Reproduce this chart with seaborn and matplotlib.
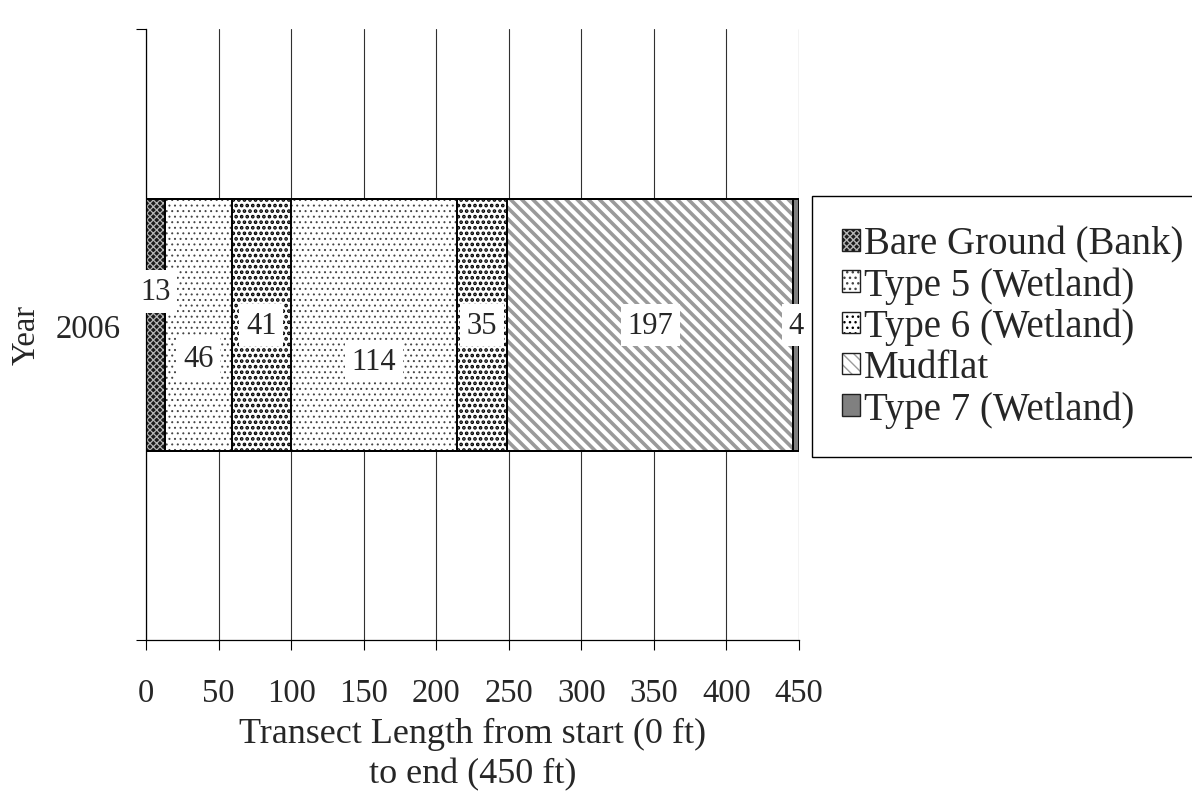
import matplotlib
matplotlib.use("Agg")
import matplotlib.pyplot as plt
from matplotlib.patches import Patch
from matplotlib.legend_handler import HandlerTuple
import numpy as np
import pandas as pd
import seaborn as sns

# Transect segments (ft), in order from start to end
year = "2006"
segments = ["Bare Ground (Bank)", "Type 5 (Wetland)", "Type 6 (Wetland)", "Mudflat", "Type 7 (Wetland)"]
lengths = [13, 46, 41, 114, 35, 197, 4]
segment_types = ["Bare Ground (Bank)", "Type 5 (Wetland)", "Type 6 (Wetland)", "Type 5 (Wetland)",
                 "Type 6 (Wetland)", "Mudflat", "Type 7 (Wetland)"]
x_ticks = list(range(0, 451, 50))

# Fill style per cover type: face colour, hatch colour, hatch pattern, hatch line width
styles = {
    "Bare Ground (Bank)": dict(face="#1c1c1c", hcol="#b5b5b5", hatch="xxxxx", hlw=0.9),
    "Type 5 (Wetland)": dict(face="white", hcol="#454545", hatch="...", hlw=0.7),
    "Type 6 (Wetland)": dict(face="white", hcol="black", hatch="...", hlw=1.8),
    "Mudflat": dict(face="white", hcol="#9a9a9a", hatch="\\\\\\", hlw=2.6),
    "Type 7 (Wetland)": dict(face="#808080", hcol="#808080", hatch=None, hlw=1.0),
}
# vertical nudges (points) for value labels that would otherwise collide
label_dy = [24, -24, 0, -26, 0, 0, 0]

sns.set_style("ticks")
plt.rcParams["font.family"] = ["Liberation Serif", "DejaVu Serif"]

fig = plt.figure(figsize=(11.92, 8.04), dpi=100)
ax = fig.add_axes([146 / 1192, 1 - 641 / 804, (799 - 146) / 1192, (641 - 30) / 804])

ends = np.cumsum(lengths)
df = pd.DataFrame({"year": [year] * len(lengths), "end": ends, "length": lengths, "type": segment_types})

# stacked bars: draw cumulative totals longest first so each segment covers the one behind
for i in range(len(df) - 1, -1, -1):
    row = df.iloc[[i]]
    st = styles[row["type"].iloc[0]]
    with plt.rc_context({"hatch.linewidth": st["hlw"]}):
        sns.barplot(data=row, x="end", y="year", orient="h", width=0.4, color=st["face"],
                    saturation=1, edgecolor=st["hcol"], linewidth=0, hatch=st["hatch"],
                    ax=ax, zorder=2)
# segment outlines
for i in range(len(df) - 1, -1, -1):
    row = df.iloc[[i]]
    sns.barplot(data=row, x="end", y="year", orient="h", width=0.4, color="black",
                fill=False, linewidth=1.4, ax=ax, zorder=3)

# value labels in white boxes
for i, (v, e) in enumerate(zip(lengths, ends)):
    ax.annotate(str(v), xy=(e - v / 2, 0), xytext=(0, label_dy[i]), textcoords="offset points",
                ha="center", va="center", fontsize=22, zorder=5,
                bbox=dict(boxstyle="square,pad=0.22", fc="white", ec="none"))

ax.set_xlim(0, 450)
ylim = (0.5, -0.47)
ax.set_ylim(*ylim)
ax.set_xticks(x_ticks)
ax.set_xticklabels([str(t) for t in x_ticks])
ax.grid(axis="x", color="#303030", linewidth=0.8, zorder=0)
ax.set_axisbelow(True)
ax.tick_params(axis="x", direction="out", length=7.2, width=0.8, color="black",
               labelsize=23.5, pad=20)
ax.tick_params(axis="y", which="major", length=0, labelsize=23.5, pad=18.5)
ax.set_yticks(list(ylim), minor=True)
ax.tick_params(axis="y", which="minor", direction="out", length=7.2, width=0.8,
               color="black", left=True)
for side in ["top", "right"]:
    ax.spines[side].set_visible(False)
for side in ["left", "bottom"]:
    ax.spines[side].set_color("black")
    ax.spines[side].set_linewidth(0.9)

ax.set_xlabel("Transect Length from start (0 ft)\nto end (450 ft)", fontsize=26,
              labelpad=6.5, linespacing=1.27)
ax.set_ylabel("Year", fontsize=23.5, labelpad=10)

handles = []
for name in segments:
    st = styles[name]
    with plt.rc_context({"hatch.linewidth": st["hlw"]}):
        fill = Patch(facecolor=st["face"], edgecolor=st["hcol"], hatch=st["hatch"], linewidth=0)
    outline = Patch(facecolor="none", edgecolor="#202020", linewidth=1.0)
    handles.append((fill, outline))
leg = fig.legend(handles=handles, labels=segments, loc="upper left",
                 bbox_to_anchor=(812 / 1192, 1 - 197 / 804),
                 handler_map={tuple: HandlerTuple(ndivide=1)},
                 fontsize=28, frameon=True, fancybox=False, edgecolor="black", framealpha=1,
                 handlelength=0.47, handleheight=0.47, handletextpad=0.1, borderpad=0.76,
                 labelspacing=0.1, borderaxespad=0)
leg.get_frame().set_linewidth(1.0)

fig.savefig("out.png", dpi=100)
